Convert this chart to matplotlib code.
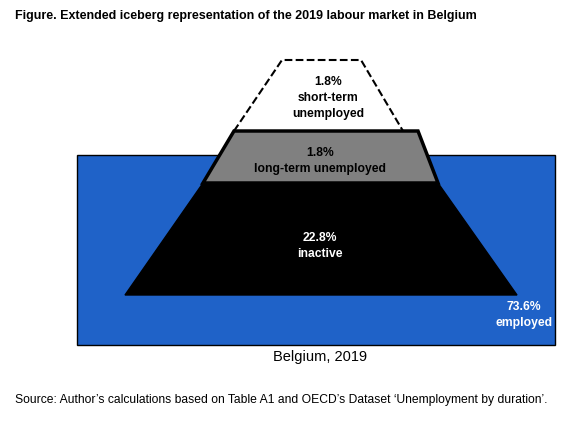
import matplotlib.pyplot as plt
from matplotlib.patches import Polygon, Rectangle

groups = ["short-term\nunemployed", "long-term unemployed", "inactive", "employed"]
shares = [1.8, 1.8, 22.8, 73.6]

W, H = 578, 421
fig = plt.figure(figsize=(W / 100, H / 100), dpi=100)
ax = fig.add_axes([0, 0, 1, 1])
ax.set_xlim(0, W)
ax.set_ylim(H, 0)
ax.axis("off")

# water (employed)
ax.add_patch(Rectangle((77, 155), 478, 190, facecolor="#1f62c8", edgecolor="black", lw=1))
# inactive
ax.add_patch(Polygon([(203, 183), (438, 183), (517, 295), (125, 295)], closed=True,
                     facecolor="black", edgecolor="black"))
# long-term unemployed
ax.add_patch(Polygon([(234, 131), (418, 131), (438, 183), (203, 183)], closed=True,
                     facecolor="#808080", edgecolor="black", lw=2.5))
# short-term unemployed (dashed tip)
ax.plot([234, 282, 361, 403], [131, 60, 60, 131], color="black", ls="--", lw=1.5)

lbl = [f"{v}%\n{g}" for g, v in zip(groups, shares)]
kw = dict(ha="center", va="center", fontsize=8.7, fontweight="bold",
          linespacing=1.4, family="Liberation Sans")
ax.text(328, 98, lbl[0], **kw)
ax.text(320, 161, lbl[1], **kw)
ax.text(320, 246, lbl[2], color="white", **kw)
ax.text(524, 315, lbl[3], color="white", **kw)

ax.text(320, 357, "Belgium, 2019", ha="center", va="center", fontsize=10.5,
        family="Liberation Sans")
ax.text(15, 16, "Figure. Extended iceberg representation of the 2019 labour market in Belgium",
        ha="left", va="center", fontsize=9, fontweight="bold", family="Liberation Sans")
ax.text(15, 400, "Source: Author\u2019s calculations based on Table A1 and OECD\u2019s Dataset \u2018Unemployment by duration\u2019.",
        ha="left", va="center", fontsize=8.75, family="Liberation Sans")

fig.savefig("out.png", dpi=100)
